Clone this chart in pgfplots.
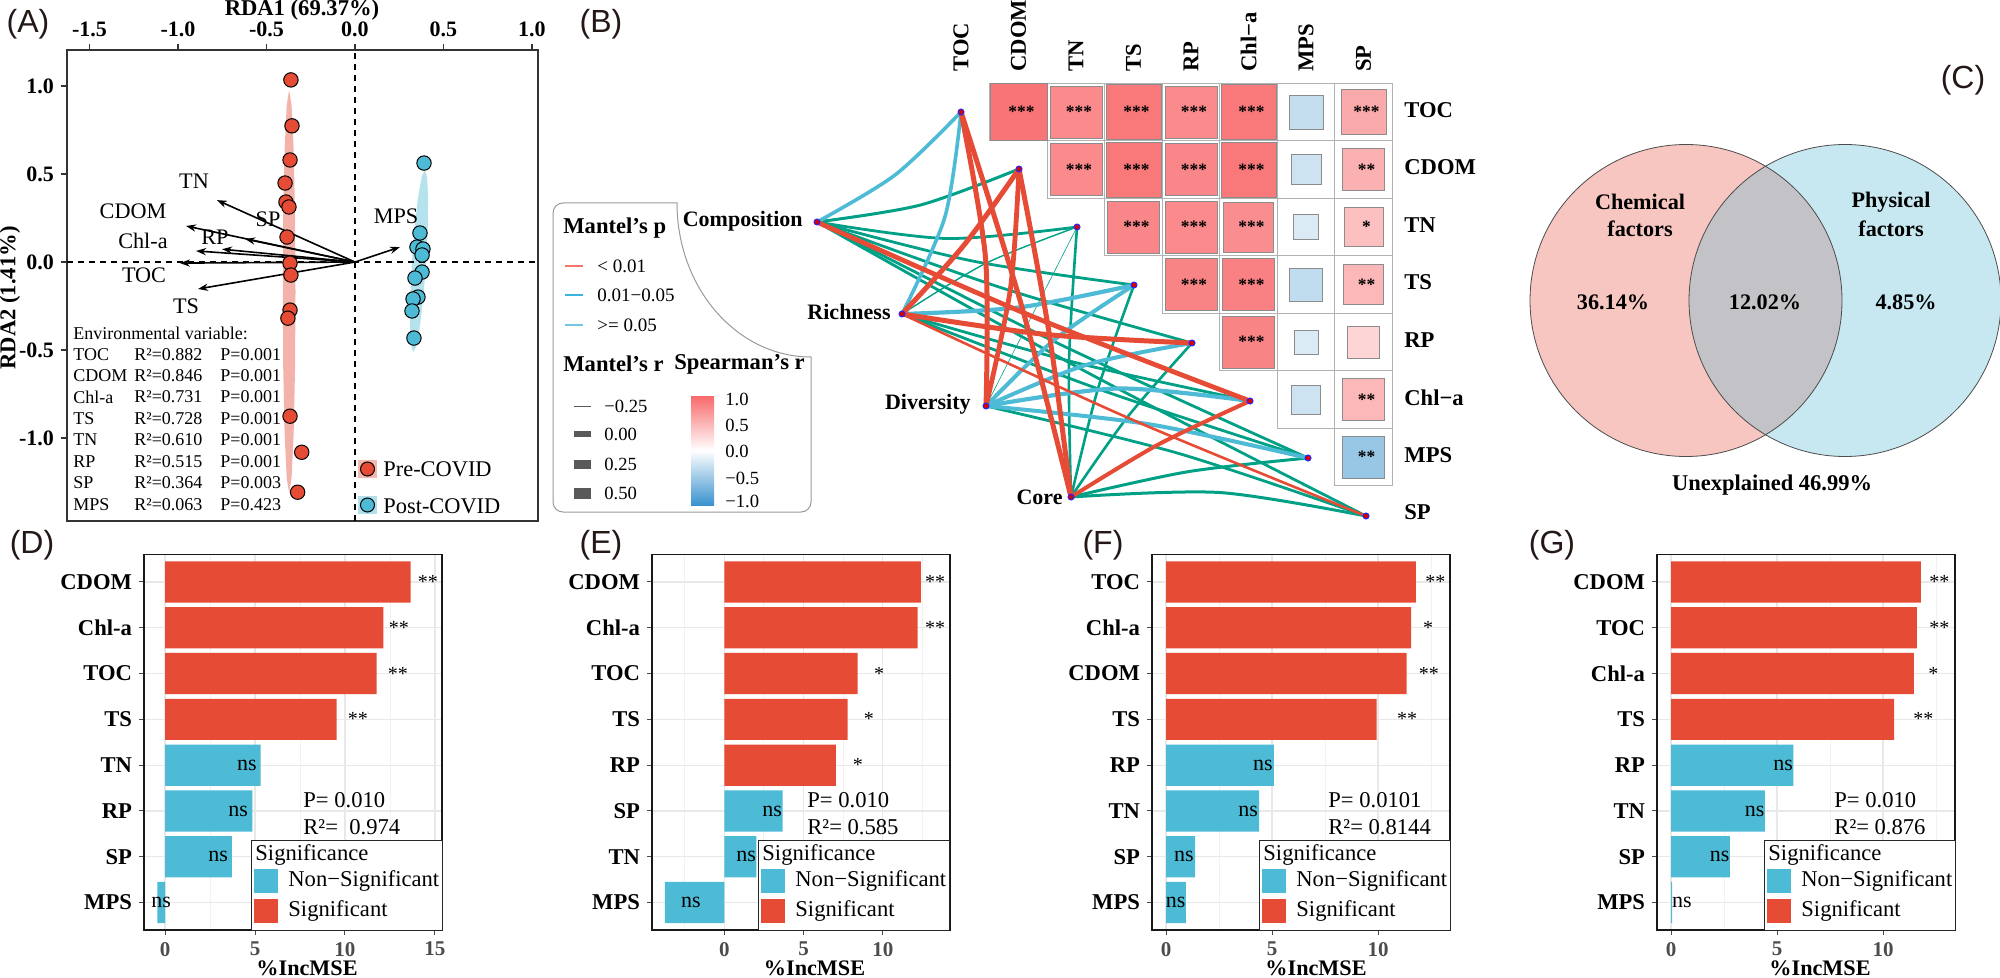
\documentclass[border=0pt]{standalone}
\usepackage{fontspec}
\setmainfont{Liberation Serif}
\newfontfamily\lsans{Liberation Sans}
\usepackage{pgfplots}
\pgfplotsset{compat=1.18}
\usetikzlibrary{arrows.meta}
\definecolor{npgred}{HTML}{E64B35}
\definecolor{npgblue}{HTML}{4DBBD5}
\definecolor{npggreen}{HTML}{00A087}
\definecolor{venpink}{HTML}{F7C6C0}
\definecolor{venblue}{HTML}{C7E8F1}
\definecolor{vengray}{HTML}{C3C2C7}
\definecolor{lgred}{HTML}{F3776B}
\definecolor{lgblue}{HTML}{3CB4DD}
\definecolor{lgcyan}{HTML}{72C6E2}
\definecolor{cbred}{HTML}{F8696B}
\definecolor{cbblue}{HTML}{3A92CE}
\definecolor{labc}{HTML}{231815}
\newcommand{\fz}[1]{\fontsize{#1}{#1}\selectfont}
\pgfplotsset{
  rfbar/.style={scale only axis, width=149pt, height=187.75pt, anchor=north west,
    xbar, bar shift=0pt, bar width=0.9,
    ymin=-0.6, ymax=7.6, ytick={0,...,7},
    xtick pos=left, ytick pos=left, tick align=outside,
    major tick length=2.5pt, minor tick length=0pt,
    tick style={black!70, line width=0.5pt},
    grid=both, major grid style={black!9, line width=0.6pt},
    minor grid style={black!5, line width=0.4pt},
    axis line style={black!90, line width=0.6pt},
    yticklabel style={font=\bfseries\fz{11.3}, text=black},
    xticklabel style={font=\bfseries\fz{10.5}, text=black!70},
    clip=false},
}
\tikzset{st/.style={font=\fz{10}, inner sep=0pt},
         nsl/.style={font=\fz{11}, inner sep=0pt},
         hs/.style={font=\bfseries\fz{8.7}, inner sep=0pt}}
\newcommand{\siglegend}[2]{%
  \fill[white] (#1,-840) rectangle (#2,-930);
  \draw[black!85, line width=0.5pt] (#1,-840) rectangle (#2,-930);
  \node[anchor=west, inner sep=0pt, font=\fz{11.3}] at (#1+4,-855) {Significance};
  \fill[npgblue] (#1+3,-869) rectangle (#1+27,-892.6);
  \fill[npgred] (#1+3,-898.6) rectangle (#1+27,-922.5);
  \node[anchor=west, inner sep=0pt, font=\fz{11.3}] at (#1+37,-880.8) {Non−Significant};
  \node[anchor=west, inner sep=0pt, font=\fz{11.3}] at (#1+37,-910.5) {Significant};
}
\begin{document}
\begin{tikzpicture}[x=0.5pt,y=0.5pt]

% ================= overlay axis: panel B (heatmap + Mantel network) =================
\begin{axis}[at={(0pt,0pt)}, anchor=north west, scale only axis, width=1000pt, height=489pt,
  xmin=0, xmax=2000, ymin=0, ymax=978, y dir=reverse, hide axis, clip=false,
  colormap={hm}{rgb255(0cm)=(58,145,205) rgb255(1cm)=(255,255,255) rgb255(2cm)=(248,105,107)},
  point meta min=-1, point meta max=1]
% cell outlines
\addplot[only marks, mark=square, mark size=14.375pt, mark options={draw=black!30, line width=0.5pt}] coordinates {
(1018.5,112)(1076,112)(1133.5,112)(1191,112)(1248.5,112)(1306,112)(1363.5,112)
(1076,169.5)(1133.5,169.5)(1191,169.5)(1248.5,169.5)(1306,169.5)(1363.5,169.5)
(1133.5,227)(1191,227)(1248.5,227)(1306,227)(1363.5,227)
(1191,284.5)(1248.5,284.5)(1306,284.5)(1363.5,284.5)
(1248.5,342)(1306,342)(1363.5,342)
(1306,399.5)(1363.5,399.5)
(1363.5,457)};
% coloured cells (Spearman's r)
\addplot[scatter, only marks, mark=square*, point meta=\thisrow{r},
  scatter/use mapped color={draw=black!45, fill=mapped color},
  visualization depends on={\thisrow{ms}\as\perms},
  scatter/@pre marker code/.append style={/tikz/mark size=\perms pt},
  mark options={line width=0.4pt}] table {
x y ms r
1018.5 112 14.25 0.93
1076 112 13 0.78
1133.5 112 13.75 0.90
1191 112 13 0.78
1248.5 112 13.75 0.90
1306 112 8.5 -0.30
1363.5 112 11.25 0.57
1076 169.5 13 0.78
1133.5 169.5 13.75 0.90
1191 169.5 13 0.80
1248.5 169.5 13.75 0.90
1306 169.5 7.5 -0.25
1363.5 169.5 10.5 0.52
1133.5 227 13 0.80
1191 227 13 0.78
1248.5 227 12.5 0.76
1306 227 6.25 -0.18
1363.5 227 9.75 0.42
1191 284.5 13 0.82
1248.5 284.5 13 0.84
1306 284.5 8.25 -0.32
1363.5 284.5 10 0.48
1248.5 342 13 0.82
1306 342 6 -0.18
1363.5 342 8 0.28
1306 399.5 7.25 -0.25
1363.5 399.5 10.5 0.48
1363.5 457 10.5 -0.52
};
% ---- edges: p >= 0.05 (green)
\addplot[npggreen, line width=1.5pt, smooth] coordinates {(817,222)(920.5,205)(1019,169)};
\addplot[npggreen, line width=1.4pt, smooth] coordinates {(817,222)(946.7,238.5)(1077,227)};
\addplot[npggreen, line width=1.4pt, smooth] coordinates {(817,222)(973.9,261.3)(1134,285)};
\addplot[npggreen, line width=1.4pt, smooth] coordinates {(817,222)(1002.7,288.2)(1192,343)};
\addplot[npggreen, line width=1.4pt, smooth] coordinates {(817,222)(1060.3,344.5)(1308,458)};
\addplot[npggreen, line width=1.4pt, smooth] coordinates {(817,222)(1089.1,373.4)(1366,516)};
\addplot[npggreen, line width=0.7pt, smooth] coordinates {(902,314)(985.9,263.3)(1077,227)};
\addplot[npggreen, line width=1.4pt, smooth] coordinates {(902,314)(1074.8,362.4)(1250,401)};
\addplot[npggreen, line width=1.4pt, smooth] coordinates {(902,314)(1103.3,390.7)(1308,458)};
\addplot[npggreen, line width=0.3pt, smooth] coordinates {(986,406)(1031.5,316.5)(1077,227)};
\addplot[npggreen, line width=1.4pt, smooth] coordinates {(986,406)(1178.2,453.3)(1366,516)};
\addplot[npggreen, line width=1.3pt, smooth] coordinates {(1071,497)(1069,361.9)(1077,227)};
\addplot[npggreen, line width=1.3pt, smooth] coordinates {(1071,497)(1097.7,389.6)(1134,285)};
\addplot[npggreen, line width=1.3pt, smooth] coordinates {(1071,497)(1127.6,416.9)(1192,343)};
\addplot[npggreen, line width=1.5pt, smooth] coordinates {(1071,497)(1188.5,471.6)(1308,458)};
\addplot[npggreen, line width=1.5pt, smooth] coordinates {(1071,497)(1219.4,492.5)(1366,516)};
% ---- edges: 0.01-0.05 (blue)
\addplot[npgblue, line width=1.8pt, smooth] coordinates {(817,222)(895,175)(961,112)};
\addplot[npgblue, line width=1.8pt, smooth] coordinates {(902,314)(944.9,216.9)(961,112)};
\addplot[npgblue, line width=2.1pt, smooth] coordinates {(902,314)(1019,307.4)(1134,285)};
\addplot[npgblue, line width=2pt, smooth] coordinates {(986,406)(1054.9,339.3)(1134,285)};
\addplot[npgblue, line width=2pt, smooth] coordinates {(986,406)(1086.1,364.9)(1192,343)};
\addplot[npgblue, line width=2.1pt, smooth] coordinates {(986,406)(1117.7,388.5)(1250,401)};
\addplot[npgblue, line width=2pt, smooth] coordinates {(986,406)(1148.3,424.1)(1308,458)};
% ---- edges: < 0.01 (red)
\addplot[npgred, line width=2.4pt, smooth] coordinates {(817,222)(1031.6,316.1)(1250,401)};
\addplot[npgred, line width=2.5pt, smooth] coordinates {(902,314)(964.4,244.6)(1019,169)};
\addplot[npgred, line width=2.5pt, smooth] coordinates {(902,314)(1046.4,334.5)(1192,343)};
\addplot[npgred, line width=1.3pt, smooth] coordinates {(902,314)(1132,419.6)(1366,516)};
\addplot[npgred, line width=2.5pt, smooth] coordinates {(986,406)(985.5,258)(961,112)};
\addplot[npgred, line width=2.4pt, smooth] coordinates {(986,406)(1010.4,288.6)(1019,169)};
\addplot[npgred, line width=2.5pt, smooth] coordinates {(1071,497)(1020.8,303.1)(961,112)};
\addplot[npgred, line width=2.5pt, smooth] coordinates {(1071,497)(1049,332.4)(1019,169)};
\addplot[npgred, line width=2pt, smooth] coordinates {(1071,497)(1158.1,444.6)(1250,401)};
% nodes
\addplot[only marks, mark=*, mark size=1.5pt, mark options={fill=red!85!black, draw=blue!85, line width=0.5pt}] coordinates {
(817,222)(902,314)(986,406)(1071,497)
(961,112)(1019,169)(1077,227)(1134,285)(1192,343)(1250,401)(1308,458)(1366,516)};
\end{axis}

% ================= Panel A: RDA =================
\begin{axis}[at={(33.5pt,-25pt)}, anchor=north west, scale only axis, width=235.5pt, height=235.5pt,
  xmin=-1.627, xmax=1.034, ymin=-1.4716, ymax=1.205,
  xtick={-1.5,-1,-0.5,0,0.5,1}, xticklabels={-1.5,-1.0,-0.5,0.0,0.5,1.0},
  ytick={-1,-0.5,0,0.5,1}, yticklabels={-1.0,-0.5,0.0,0.5,1.0},
  xtick pos=right, xticklabel pos=right, ytick pos=left,
  tick align=outside, major tick length=3pt, tick style={black!80, line width=0.6pt},
  axis line style={black!80, line width=0.8pt},
  ticklabel style={font=\bfseries\fz{11}},
  clip=false]
\addplot[fill=npgred!42, draw=none] coordinates {
(-0.336,-0.168)(-0.3387,0.2709)(-0.3465,0.6423)(-0.3582,0.8909)(-0.372,0.978)(-0.3858,0.8909)
(-0.3975,0.6423)(-0.4053,0.2709)(-0.408,-0.168)(-0.4053,-0.6069)(-0.3975,-0.9783)(-0.3858,-1.2269)
(-0.372,-1.314)(-0.3582,-1.2269)(-0.3465,-0.9783)(-0.3387,-0.6069)(-0.336,-0.168)};
\addplot[fill=npgblue!42, draw=none] coordinates {
(0.402,0.005)(0.4114,0.2032)(0.4133,0.3709)(0.4074,0.4832)(0.3945,0.5225)(0.3767,0.4832)
(0.3567,0.3709)(0.3375,0.2032)(0.322,0.005)(0.3126,-0.1932)(0.3107,-0.3609)(0.3167,-0.4732)
(0.3295,-0.5125)(0.3473,-0.4732)(0.3673,-0.3609)(0.3865,-0.1932)(0.402,0.005)};
\addplot[black, line width=0.6pt, dash pattern=on 3pt off 2.5pt] coordinates {(0,-1.4716)(0,1.205)};
\addplot[black, line width=0.6pt, dash pattern=on 3pt off 2.5pt] coordinates {(-1.627,0)(1.034,0)};
\addplot[black, line width=0.8pt, -{Stealth[length=5pt,width=3.6pt]}] coordinates {(0,0)(-0.780,0.352)};
\addplot[black, line width=0.8pt, -{Stealth[length=5pt,width=3.6pt]}] coordinates {(0,0)(-0.955,0.205)};
\addplot[black, line width=0.8pt, -{Stealth[length=5pt,width=3.6pt]}] coordinates {(0,0)(-0.621,0.131)};
\addplot[black, line width=0.8pt, -{Stealth[length=5pt,width=3.6pt]}] coordinates {(0,0)(-0.751,0.073)};
\addplot[black, line width=0.8pt, -{Stealth[length=5pt,width=3.6pt]}] coordinates {(0,0)(-0.898,0.063)};
\addplot[black, line width=0.8pt, -{Stealth[length=5pt,width=3.6pt]}] coordinates {(0,0)(-0.989,-0.006)};
\addplot[black, line width=0.8pt, -{Stealth[length=5pt,width=3.6pt]}] coordinates {(0,0)(-0.887,-0.153)};
\addplot[black, line width=0.8pt, -{Stealth[length=5pt,width=3.6pt]}] coordinates {(0,0)(0.254,0.085)};
\addplot[only marks, mark=*, mark size=3.6pt, mark options={fill=npgred, draw=black, line width=0.5pt}] coordinates {
(-0.362,1.035)(-0.356,0.774)(-0.367,0.580)(-0.395,0.449)(-0.390,0.341)(-0.373,0.313)(-0.384,0.142)
(-0.367,-0.006)(-0.362,-0.074)(-0.367,-0.273)(-0.379,-0.319)(-0.367,-0.876)(-0.301,-1.081)(-0.324,-1.308)};
\addplot[only marks, mark=*, mark size=3.6pt, mark options={fill=npgblue, draw=black, line width=0.5pt}] coordinates {
(0.390,0.5625)(0.367,0.165)(0.350,0.085)(0.384,0.074)(0.379,0.040)(0.379,-0.057)(0.339,-0.091)
(0.356,-0.199)(0.328,-0.210)(0.322,-0.278)(0.333,-0.432)};
\end{axis}

% ================= Panel D =================
\begin{axis}[rfbar, at={(72pt,-277.25pt)}, xmin=-1.1667, xmax=15.389,
  xtick={0,5,10,15}, xticklabels={0,5,10,15}, minor xtick={2.5,7.5,12.5},
  yticklabels={MPS,SP,RP,TN,TS,TOC,Chl-a,CDOM}]
\addplot[fill=npgred, draw=none] coordinates {(13.65,7) (12.13,6) (11.76,5) (9.54,4)};
\addplot[fill=npgblue, draw=none] coordinates {(5.31,3) (4.85,2) (3.72,1) (-0.43,0)};
\node[st] at (14.6,7) {**};
\node[st] at (13.0,6) {**};
\node[st] at (12.94,5) {**};
\node[st] at (10.72,4) {**};
\node[nsl, anchor=east] at (5.11,3) {ns};
\node[nsl, anchor=east] at (4.63,2) {ns};
\node[nsl, anchor=east] at (3.52,1) {ns};
\node[nsl, anchor=west] at (-0.78,0) {ns};
\end{axis}

% ================= Panel E =================
\begin{axis}[rfbar, at={(326pt,-277.25pt)}, xmin=-4.557, xmax=14.241,
  xtick={0,5,10}, xticklabels={0,5,10}, minor xtick={-2.5,2.5,7.5,12.5},
  yticklabels={MPS,TN,SP,RP,TS,TOC,Chl-a,CDOM}]
\addplot[fill=npgred, draw=none] coordinates {(12.41,7) (12.2,6) (8.41,5) (7.78,4) (7.04,3)};
\addplot[fill=npgblue, draw=none] coordinates {(3.69,2) (2.03,1) (-3.74,0)};
\node[st] at (13.3,7) {**};
\node[st] at (13.3,6) {**};
\node[st] at (9.77,5) {*};
\node[st] at (9.13,4) {*};
\node[st] at (8.43,3) {*};
\node[nsl, anchor=east] at (3.66,2) {ns};
\node[nsl, anchor=east] at (2.03,1) {ns};
\node[nsl] at (-2.11,0) {ns};
\end{axis}

% ================= Panel F =================
\begin{axis}[rfbar, at={(576pt,-277.25pt)}, xmin=-0.66, xmax=13.396,
  xtick={0,5,10}, xticklabels={0,5,10}, minor xtick={2.5,7.5,12.5},
  yticklabels={MPS,SP,TN,RP,TS,CDOM,Chl-a,TOC}]
\addplot[fill=npgred, draw=none] coordinates {(11.79,7) (11.56,6) (11.35,5) (9.93,4)};
\addplot[fill=npgblue, draw=none] coordinates {(5.09,3) (4.39,2) (1.37,1) (0.94,0)};
\node[st] at (12.7,7) {**};
\node[st] at (12.36,6) {*};
\node[st] at (12.4,5) {**};
\node[st] at (11.37,4) {**};
\node[nsl, anchor=east] at (5.05,3) {ns};
\node[nsl, anchor=east] at (4.35,2) {ns};
\node[nsl, anchor=east] at (1.33,1) {ns};
\node[nsl, anchor=east] at (0.93,0) {ns};
\end{axis}

% ================= Panel G =================
\begin{axis}[rfbar, at={(828.5pt,-277.25pt)}, xmin=-0.66, xmax=13.396,
  xtick={0,5,10}, xticklabels={0,5,10}, minor xtick={2.5,7.5,12.5},
  yticklabels={MPS,SP,TN,RP,TS,Chl-a,TOC,CDOM}]
\addplot[fill=npgred, draw=none] coordinates {(11.79,7) (11.6,6) (11.46,5) (10.52,4)};
\addplot[fill=npgblue, draw=none] coordinates {(5.77,3) (4.43,2) (2.78,1) (0.05,0)};
\node[st] at (12.66,7) {**};
\node[st] at (12.66,6) {**};
\node[st] at (12.37,5) {*};
\node[st] at (11.9,4) {**};
\node[nsl, anchor=east] at (5.77,3) {ns};
\node[nsl, anchor=east] at (4.43,2) {ns};
\node[nsl, anchor=east] at (2.78,1) {ns};
\node[nsl, anchor=west] at (0.03,0) {ns};
\end{axis}

% ================= Annotations (absolute, px units, y downward = negative) =================
\foreach \t/\px/\py in {A/28/24, B/601/24, C/1963/80, D/32/545, E/601/545, F/1103/545, G/1552/545}
  {\node[font=\lsans\fz{16}, text=labc, inner sep=0pt] at (\px,-\py) {(\t)};}

\node[font=\bfseries\fz{11.3}, anchor=base, inner sep=0pt] at (302,-16) {RDA1 (69.37\%)};
\node[font=\bfseries\fz{11.3}, rotate=90, inner sep=0pt] at (10,-298) {RDA2 (1.41\%)};
\foreach \t/\px/\py in {TN/194/181, CDOM/133/211, SP/268/219, RP/215/237, Chl-a/143/241, TOC/144/275, TS/186/306, MPS/396/216}
  {\node[font=\fz{11.1}, inner sep=0pt] at (\px,-\py) {\t};}
\node[anchor=west, inner sep=0pt, font=\fz{9}] at (73,-333) {Environmental variable:};
\foreach \n/\r/\p/\py in {TOC/0.882/0.001/354.5, CDOM/0.846/0.001/376, Chl-a/0.731/0.001/397,
   TS/0.728/0.001/418.5, TN/0.610/0.001/440, RP/0.515/0.001/461.5, SP/0.364/0.003/483, MPS/0.063/0.423/504.5}
  {\node[anchor=west, inner sep=0pt, font=\fz{9}] at (73,-\py) {\n};
   \node[anchor=west, inner sep=0pt, font=\fz{9}] at (134,-\py) {R²=\r};
   \node[anchor=west, inner sep=0pt, font=\fz{9}] at (220,-\py) {P=\p};}
\fill[npgred!40] (358,-460) rectangle (377,-478);
\filldraw[fill=npgred, draw=black, line width=0.5pt] (367.5,-469) circle (7);
\fill[npgblue!45] (358,-496) rectangle (377,-514);
\filldraw[fill=npgblue, draw=black, line width=0.5pt] (367.5,-505) circle (7);
\node[anchor=west, inner sep=0pt, font=\fz{11.2}] at (383,-469) {Pre-COVID};
\node[anchor=west, inner sep=0pt, font=\fz{11.2}] at (383,-506) {Post-COVID};

\foreach \t/\px in {TOC/961, CDOM/1018.5, TN/1076, TS/1133.5, RP/1191, Chl−a/1248.5, MPS/1306, SP/1363.5}
  {\node[font=\bfseries\fz{11.3}, rotate=90, anchor=west, inner sep=0pt] at (\px,-72) {\t};}
\foreach \t/\py in {TOC/110, CDOM/167.5, TN/225, TS/282.5, RP/340, Chl−a/397.5, MPS/455, SP/512.5}
  {\node[font=\bfseries\fz{11.3}, anchor=west, inner sep=0pt] at (1404,-\py) {\t};}
\foreach \px/\py/\s in {1018.5/112/***, 1076/112/***, 1133.5/112/***, 1191/112/***, 1248.5/112/***, 1363.5/112/***,
   1076/169.5/***, 1133.5/169.5/***, 1191/169.5/***, 1248.5/169.5/***, 1363.5/169.5/**,
   1133.5/227/***, 1191/227/***, 1248.5/227/***, 1363.5/227/*,
   1191/284.5/***, 1248.5/284.5/***, 1363.5/284.5/**,
   1248.5/342/***, 1363.5/399.5/**, 1363.5/457/**}
  {\node[hs] at (\px+3,-\py) {\s};}
\node[font=\bfseries\fz{11}, anchor=east, inner sep=0pt] at (803,-221) {Composition};
\node[font=\bfseries\fz{11}, anchor=east, inner sep=0pt] at (891,-312) {Richness};
\node[font=\bfseries\fz{11}, anchor=east, inner sep=0pt] at (971,-404) {Diversity};
\node[font=\bfseries\fz{11}, anchor=east, inner sep=0pt] at (1063,-497) {Core};
\draw[black!40, line width=0.5pt] (553,-213) arc[start angle=180, end angle=90, radius=10] -- (677,-203)
  arc[start angle=180, end angle=270, x radius=134, y radius=154] -- (811,-502)
  arc[start angle=0, end angle=-90, radius=10] -- (563,-512)
  arc[start angle=270, end angle=180, radius=10] -- cycle;
\node[font=\bfseries\fz{11.3}, anchor=west, inner sep=0pt] at (563,-228) {Mantel's p};
\draw[lgred, line width=0.9pt] (565,-266) -- (583,-266);
\draw[lgblue, line width=0.9pt] (565,-295) -- (583,-295);
\draw[lgcyan, line width=0.9pt] (565,-325) -- (583,-325);
\node[font=\fz{9.5}, anchor=west, inner sep=0pt] at (597,-266) {< 0.01};
\node[font=\fz{9.5}, anchor=west, inner sep=0pt] at (597,-295) {0.01−0.05};
\node[font=\fz{9.5}, anchor=west, inner sep=0pt] at (597,-325) {>= 0.05};
\node[font=\bfseries\fz{11.3}, anchor=west, inner sep=0pt] at (563,-364) {Mantel's r};
\node[font=\bfseries\fz{11.3}, anchor=west, inner sep=0pt] at (674,-364) {Spearman's r};
\draw[black!65, line width=0.5pt] (574,-406) -- (591,-406);
\fill[black!65] (574,-431) rectangle (591,-437.4);
\fill[black!65] (574,-459.5) rectangle (591,-468.5);
\fill[black!65] (574,-488) rectangle (591,-498.5);
\node[font=\fz{9.3}, anchor=west, inner sep=0pt] at (604,-406) {−0.25};
\node[font=\fz{9.3}, anchor=west, inner sep=0pt] at (604,-434) {0.00};
\node[font=\fz{9.3}, anchor=west, inner sep=0pt] at (604,-464) {0.25};
\node[font=\fz{9.3}, anchor=west, inner sep=0pt] at (604,-493) {0.50};
\shade[top color=cbred, bottom color=cbblue, middle color=white] (691,-396) rectangle (714,-505);
\foreach \t/\py in {1.0/399, 0.5/425, 0.0/451, −0.5/478, −1.0/501}
  {\node[font=\fz{9.3}, anchor=west, inner sep=0pt] at (725,-\py) {\t};}

\fill[venpink] (1686,-300.5) circle (156);
\fill[venblue] (1845,-300.5) circle (156);
\begin{scope}
  \clip (1686,-300.5) circle (156);
  \fill[vengray] (1845,-300.5) circle (156);
\end{scope}
\draw[black!70, line width=0.4pt] (1686,-300.5) circle (156);
\draw[black!70, line width=0.4pt] (1845,-300.5) circle (156);
\node[font=\bfseries\fz{11.1}, inner sep=0pt] at (1640,-202) {Chemical};
\node[font=\bfseries\fz{11.1}, inner sep=0pt] at (1640,-229) {factors};
\node[font=\bfseries\fz{11.1}, inner sep=0pt] at (1891,-202) {Physical};
\node[font=\bfseries\fz{11.1}, inner sep=0pt] at (1891,-229) {factors};
\node[font=\bfseries\fz{11.1}, inner sep=0pt] at (1613,-302) {36.14\%};
\node[font=\bfseries\fz{11.1}, inner sep=0pt] at (1765,-302) {12.02\%};
\node[font=\bfseries\fz{11.1}, inner sep=0pt] at (1906,-302) {4.85\%};
\node[font=\bfseries\fz{11.25}, inner sep=0pt] at (1772,-485) {Unexplained 46.99\%};

\foreach \px/\p/\r in {303/0.010/\ \ 0.974, 807/0.010/ 0.585, 1328/0.0101/ 0.8144, 1834/0.010/ 0.876}
  {\node[anchor=west, inner sep=0pt, font=\fz{11.3}] at (\px,-800) {P= \p};
   \node[anchor=west, inner sep=0pt, font=\fz{11.3}] at (\px,-827.5) {R²=\r};}
\siglegend{251}{442}
\siglegend{758}{949}
\siglegend{1259}{1450}
\siglegend{1764}{1955}
\foreach \px in {307, 814.5, 1316, 1820}
  {\node[font=\bfseries\fz{11.1}, anchor=base, inner sep=0pt] at (\px,-975) {\%IncMSE};}

\pgfresetboundingbox
\path[use as bounding box] (0,0) rectangle (2000,-978);
\end{tikzpicture}
\end{document}
